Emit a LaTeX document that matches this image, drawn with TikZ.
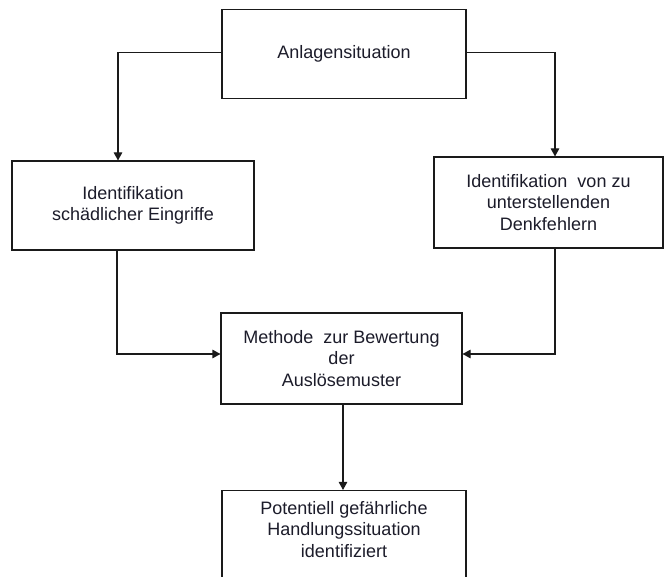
\documentclass[tikz,border=0pt]{standalone}
\usepackage{fontspec}
\setmainfont{Liberation Sans}
\usepackage{xcolor}
\usetikzlibrary{arrows.meta,positioning}
\definecolor{linec}{HTML}{1A1A1A}
\definecolor{textc}{HTML}{1C1C2A}
\tikzset{
  box/.style={draw=linec,line width=1.1pt,fill=white,align=center,inner sep=0pt,font=\fontsize{18}{21.5}\selectfont,text=textc},
  arr/.style={-{Triangle[length=8pt,width=8.5pt]},line width=1.1pt,linec}
}
\begin{document}
\begin{tikzpicture}[x=1pt,y=-1pt]
\useasboundingbox (0,0) rectangle (664,577);
\node[box,minimum width=244pt,minimum height=89pt] (anlage) at (344,54) {Anlagensituation};
\node[box,minimum width=242pt,minimum height=89pt] (eingriff) at (133,205.5) {Identifikation\\schädlicher Eingriffe};
\node[box,minimum width=229pt,minimum height=91pt] (denkf) at (548.5,202.5) {Identifikation\ \ von zu\\unterstellenden\\Denkfehlern};
\node[box,minimum width=241pt,minimum height=91pt] (methode) at (341.5,358.5) {Methode\ \ zur Bewertung\\der\\Auslösemuster};
\node[box,minimum width=244pt,minimum height=89pt,text depth=0pt] (handlung) at (344,535) {Potentiell gefährliche\\Handlungssituation\\identifiziert\\[-10pt]};
\draw[arr] ([yshift=1.5pt]anlage.west) -| ([xshift=-15pt]eingriff.north);
\draw[arr] ([yshift=1.5pt]anlage.east) -| ([xshift=6.5pt]denkf.north);
\draw[arr] ([xshift=-16pt]eingriff.south) |- ([yshift=4.5pt]methode.west);
\draw[arr] ([xshift=6.5pt]denkf.south) |- ([yshift=4.5pt]methode.east);
\draw[arr] ([xshift=1.5pt]methode.south) -- ([xshift=1.5pt]methode.south |- handlung.north);
\end{tikzpicture}
\end{document}
